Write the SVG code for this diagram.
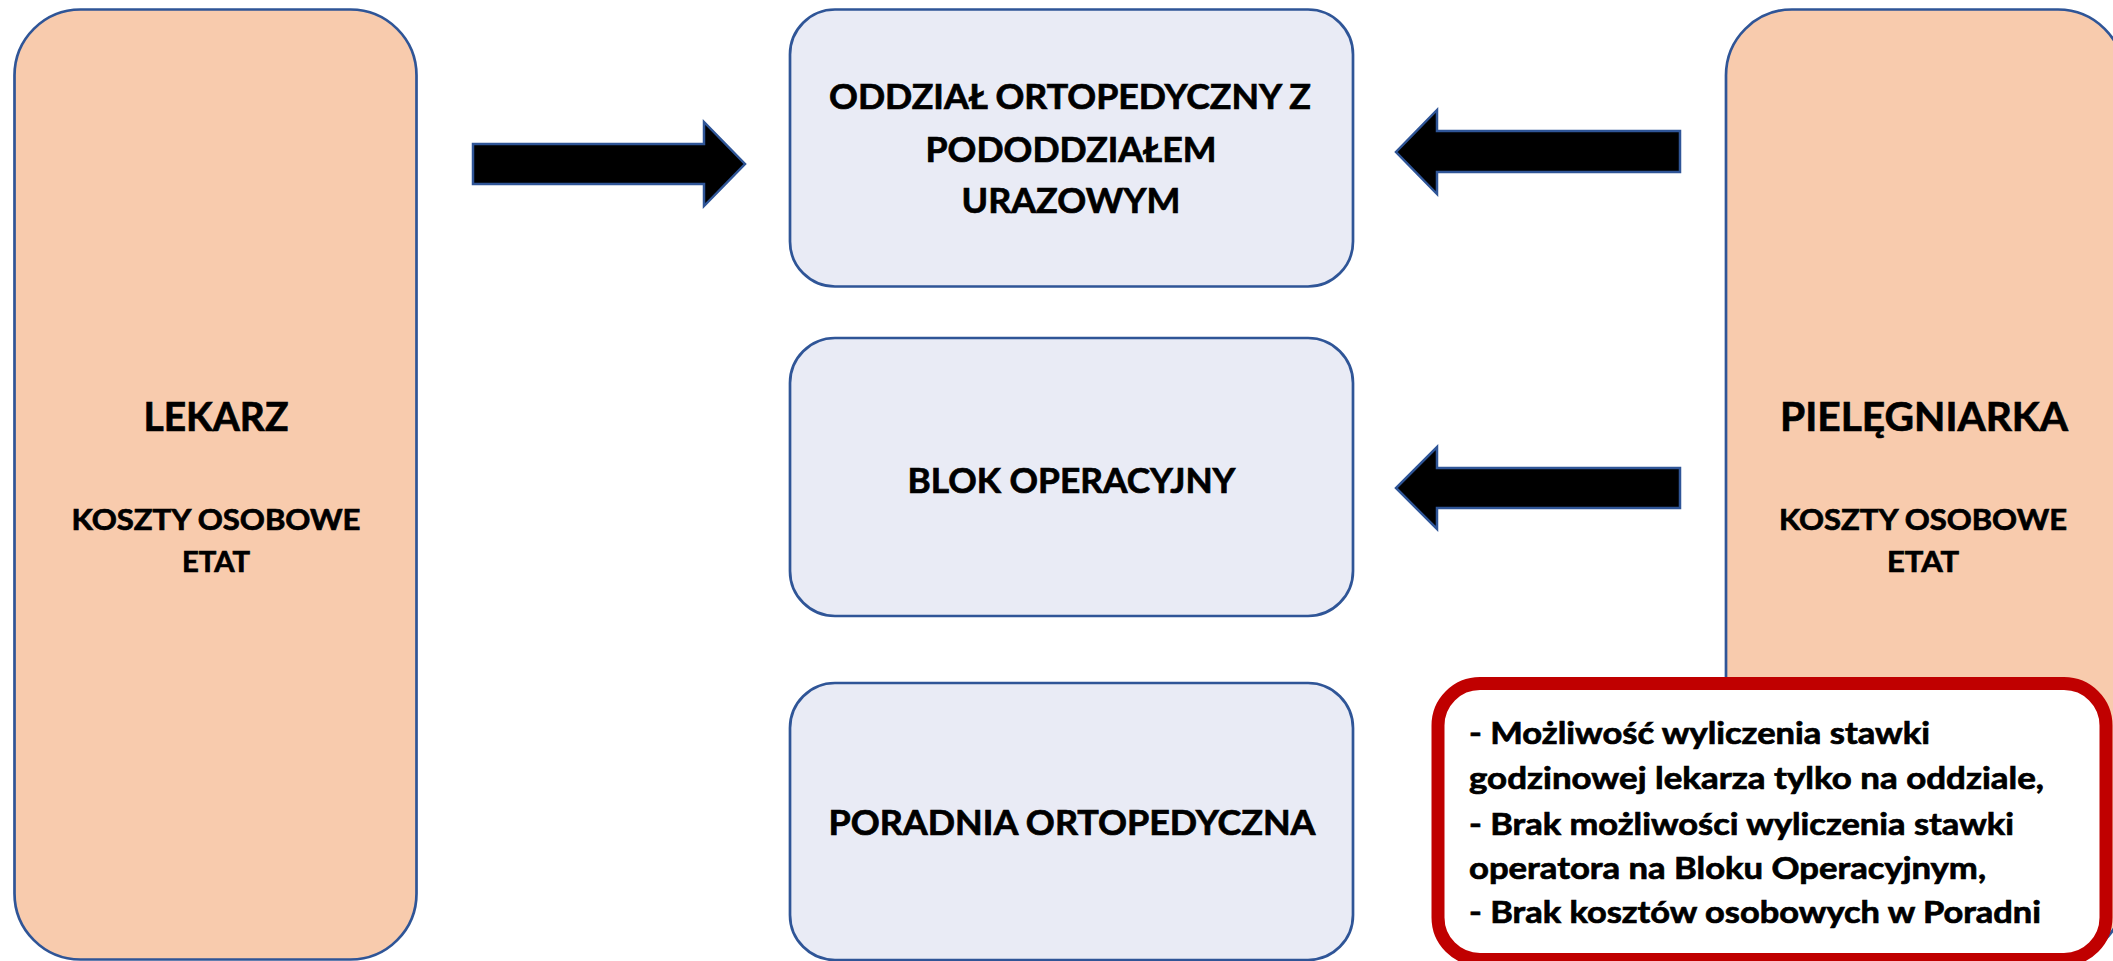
<svg xmlns="http://www.w3.org/2000/svg" width="2113" height="961" viewBox="0 0 2113 961">
<style>
.peach{fill:#F8CBAD;stroke:#2F5597;stroke-width:2.7}
.blue{fill:#E9EBF5;stroke:#2F5597;stroke-width:2.7}
.arrow{fill:#000;stroke:#2F5597;stroke-width:2.5;stroke-linejoin:miter}
.note{fill:#FFFFFF;stroke:#C00000;stroke-width:13}
text{font-family:Lato,"Open Sans","Liberation Sans",sans-serif;font-weight:bold;fill:#000;stroke:#000;stroke-width:0.7}
.c{text-anchor:middle}
.big{font-size:41px}
.mid{font-size:35px}
.sm{font-size:28px}
.nt{font-size:30px}
</style>
<rect width="2113" height="961" fill="#FFFFFF"/>
<g id="lekarz">
<rect class="peach" x="14.5" y="9.5" width="402" height="950" rx="66" ry="66"/>
<text class="c big" x="216" y="431" textLength="145" lengthAdjust="spacingAndGlyphs">LEKARZ</text>
<text class="c sm" x="216" y="530" textLength="289" lengthAdjust="spacingAndGlyphs">KOSZTY OSOBOWE</text>
<text class="c sm" x="216" y="572" textLength="68" lengthAdjust="spacingAndGlyphs">ETAT</text>
</g>
<g id="pielegniarka">
<rect class="peach" x="1726" y="9.5" width="398" height="950" rx="66" ry="66"/>
<text class="c big" x="1924" y="431" textLength="288" lengthAdjust="spacingAndGlyphs">PIELĘGNIARKA</text>
<text class="c sm" x="1923" y="530" textLength="288" lengthAdjust="spacingAndGlyphs">KOSZTY OSOBOWE</text>
<text class="c sm" x="1923" y="572" textLength="72" lengthAdjust="spacingAndGlyphs">ETAT</text>
</g>
<g id="oddzial">
<rect class="blue" x="790" y="9.5" width="563" height="277" rx="45" ry="45"/>
<text class="c mid" x="1070" y="109" textLength="482" lengthAdjust="spacingAndGlyphs">ODDZIAŁ ORTOPEDYCZNY Z</text>
<text class="c mid" x="1071" y="162" textLength="291" lengthAdjust="spacingAndGlyphs">PODODDZIAŁEM</text>
<text class="c mid" x="1071" y="213" textLength="219" lengthAdjust="spacingAndGlyphs">URAZOWYM</text>
</g>
<g id="blok">
<rect class="blue" x="790" y="338" width="563" height="278" rx="45" ry="45"/>
<text class="c mid" x="1071.5" y="493" textLength="328" lengthAdjust="spacingAndGlyphs">BLOK OPERACYJNY</text>
</g>
<g id="poradnia">
<rect class="blue" x="790" y="683" width="563" height="277" rx="45" ry="45"/>
<text class="c mid" x="1072" y="835" textLength="487" lengthAdjust="spacingAndGlyphs">PORADNIA ORTOPEDYCZNA</text>
</g>
<g id="connectors">
<path class="arrow" d="M473,144 L704,144 L704,122 L745,164 L704,206 L704,184 L473,184 Z"/>
<path class="arrow" d="M1680,131 L1437,131 L1437,110 L1396,152 L1437,194 L1437,172 L1680,172 Z"/>
<path class="arrow" d="M1680,468 L1437,468 L1437,447 L1396,488 L1437,529 L1437,508 L1680,508 Z"/>
</g>
<g id="uwagi">
<rect class="note" x="1438" y="683.5" width="668" height="276" rx="42" ry="42"/>
<text class="nt" x="1469" y="744" textLength="461" lengthAdjust="spacingAndGlyphs">- Możliwość wyliczenia stawki</text>
<text class="nt" x="1469" y="789" textLength="575" lengthAdjust="spacingAndGlyphs">godzinowej lekarza tylko na oddziale,</text>
<text class="nt" x="1469" y="835" textLength="545" lengthAdjust="spacingAndGlyphs">- Brak możliwości wyliczenia stawki</text>
<text class="nt" x="1469" y="879" textLength="517" lengthAdjust="spacingAndGlyphs">operatora na Bloku Operacyjnym,</text>
<text class="nt" x="1469" y="923" textLength="572" lengthAdjust="spacingAndGlyphs">- Brak kosztów osobowych w Poradni</text>
</g>
</svg>
